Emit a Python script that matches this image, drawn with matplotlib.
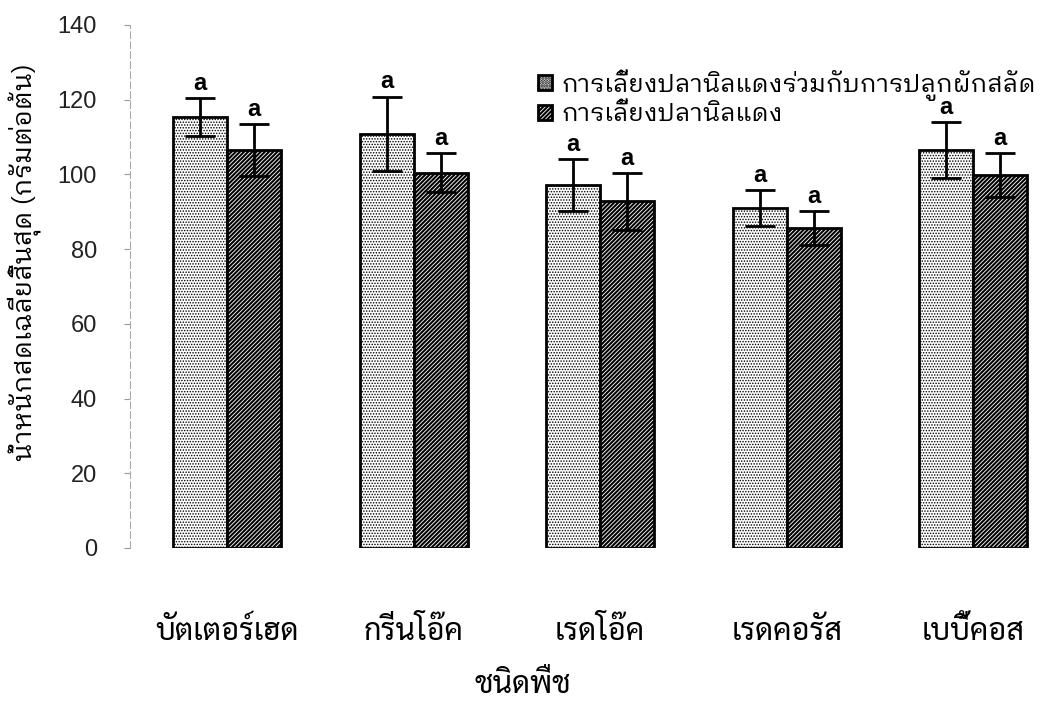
import numpy as np
import matplotlib
matplotlib.use("Agg")
import matplotlib.pyplot as plt

#   Average final fresh weight of five lettuce cultivars, grown with and
#   without red tilapia culture.
plants = ["บัตเตอร์เฮด", "กรีนโอ๊ค", "เรดโอ๊ค", "เรดคอรัส", "เบบี้คอส"]
series_names = ["การเลี้ยงปลานิลแดงร่วมกับการปลูกผักสลัด", "การเลี้ยงปลานิลแดง"]

weight_combined = [115.4, 110.8, 97.1, 91.0, 106.5]
err_combined = [5.1, 10.0, 7.0, 4.7, 7.4]
weight_fish = [106.5, 100.4, 92.8, 85.7, 99.8]
err_fish = [7.0, 5.2, 7.6, 4.5, 5.9]
letters_combined = ["a", "a", "a", "a", "a"]
letters_fish = ["a", "a", "a", "a", "a"]

y_ticks = [0, 20, 40, 60, 80, 100, 120, 140]

label_font = ["IBM Plex Sans Thai Looped", "DejaVu Sans"]
tick_font = ["Sarabun", "DejaVu Sans"]
num_font = ["Liberation Sans", "DejaVu Sans"]

fig = plt.figure(figsize=(10.41, 7.02), dpi=100)
ax = fig.add_axes([0.125, 0.2194, 0.869, 0.745])

x = np.arange(len(plants))
width = 0.29

#   hatch line width is taken from rcParams when each patch is made
plt.rcParams["hatch.linewidth"] = 0.7
ax.bar(x - width / 2, weight_combined, width, color="white",
       edgecolor="black", linewidth=2, hatch="......",
       label=series_names[0], zorder=2)
plt.rcParams["hatch.linewidth"] = 1.5
ax.bar(x + width / 2, weight_fish, width, color="white",
       edgecolor="black", linewidth=2, hatch="////////",
       label=series_names[1], zorder=2)

ax.errorbar(x - width / 2, weight_combined, yerr=err_combined, fmt="none",
            ecolor="black", elinewidth=2, capsize=11, capthick=2, zorder=3)
ax.errorbar(x + width / 2, weight_fish, yerr=err_fish, fmt="none",
            ecolor="black", elinewidth=2, capsize=11, capthick=2, zorder=3)

#   Significance letters above each error bar
for xs, ys, es, labs in [(x - width / 2, weight_combined, err_combined, letters_combined),
                         (x + width / 2, weight_fish, err_fish, letters_fish)]:
    for xi, yi, ei, lab in zip(xs, ys, es, labs):
        ax.annotate(lab, (xi, yi + ei), xytext=(0, 6), textcoords="offset points",
                    ha="center", va="baseline", fontsize=17, fontweight="bold",
                    family=num_font)

ax.set_xlim(-0.52, 4.33)
ax.set_ylim(0, 140)
ax.set_yticks(y_ticks)
ax.set_yticklabels([str(t) for t in y_ticks], family=num_font, fontsize=17,
                   color="#222222")
ax.tick_params(axis="y", length=4, width=0.8, color="#999999", pad=20)
ax.set_xticks(x)
ax.set_xticklabels(plants, family=tick_font, fontsize=22)
ax.tick_params(axis="x", length=0, pad=49)

for side in ["top", "right", "bottom"]:
    ax.spines[side].set_visible(False)
ax.spines["left"].set_color("#aaaaaa")
ax.spines["left"].set_linestyle((0, (6, 3)))
ax.spines["left"].set_linewidth(0.8)

ax.set_ylabel("น้ำหนักสดเฉลี่ยสิ้นสุด (กรัมต่อต้น)", family=label_font, fontsize=19)
ax.yaxis.set_label_coords(-0.099, 0.547)
ax.set_xlabel("ชนิดพืช", family=tick_font, fontsize=22)
ax.xaxis.set_label_coords(0.434, -0.232)

ax.legend(loc="upper left", bbox_to_anchor=(0.44, 0.935), frameon=False,
          prop={"family": label_font, "size": 18}, handlelength=0.55,
          handleheight=0.55, handletextpad=0.4, labelspacing=0.1,
          borderaxespad=0)

fig.savefig("out.png", dpi=100)
